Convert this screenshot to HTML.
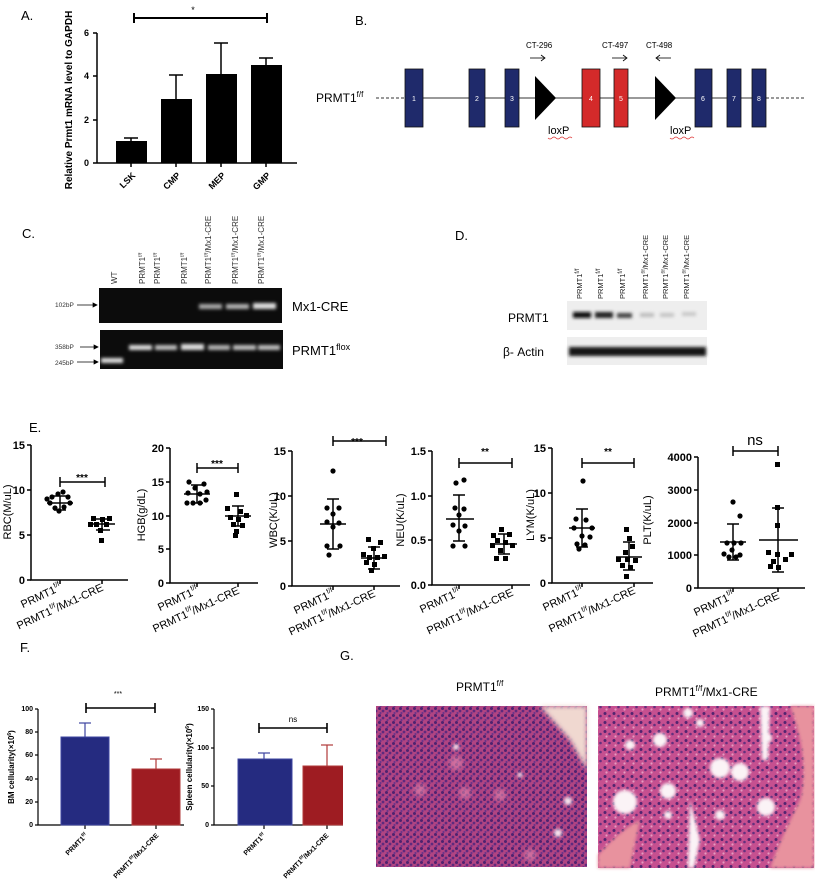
<!DOCTYPE html>
<html><head><meta charset="utf-8"><style>
html,body{margin:0;padding:0;background:#fff}
svg{display:block;font-family:"Liberation Sans",sans-serif}
</style></head><body>
<svg width="815" height="895" viewBox="0 0 815 895" xmlns="http://www.w3.org/2000/svg">
<defs>
<filter id="blur1"><feGaussianBlur stdDeviation="1.6"/></filter>
<filter id="blur2"><feGaussianBlur stdDeviation="2.5"/></filter>
<pattern id="cells" width="7" height="7" patternUnits="userSpaceOnUse">
<rect width="7" height="7" fill="#b04482"/>
<circle cx="1.5" cy="1.5" r="1.5" fill="#4e2270"/><circle cx="5" cy="4" r="1.4" fill="#5e2a7e"/><circle cx="2.5" cy="6" r="1.1" fill="#6d348a"/>
</pattern>
<pattern id="cells2" width="9" height="9" patternUnits="userSpaceOnUse">
<rect width="9" height="9" fill="#c65090"/>
<circle cx="2" cy="2.5" r="1.5" fill="#52246f"/><circle cx="6.5" cy="5" r="1.3" fill="#63307e"/><circle cx="3.5" cy="7.5" r="1.1" fill="#e49ac0"/>
</pattern>
</defs>

<!-- Panel A -->
<text x="21" y="20" font-size="13">A.</text>
<g font-weight="bold" font-size="9">
<line x1="97" y1="33" x2="97" y2="163" stroke="#000" stroke-width="1.5"/>
<line x1="97" y1="163" x2="297" y2="163" stroke="#000" stroke-width="1.5"/>
<g stroke="#000" stroke-width="1.5">
<line x1="93" y1="33" x2="97" y2="33"/><line x1="93" y1="76" x2="97" y2="76"/><line x1="93" y1="120" x2="97" y2="120"/><line x1="93" y1="163" x2="97" y2="163"/>
<line x1="131" y1="163" x2="131" y2="167"/><line x1="176" y1="163" x2="176" y2="167"/><line x1="221" y1="163" x2="221" y2="167"/><line x1="266" y1="163" x2="266" y2="167"/>
</g>
<text x="89" y="36" text-anchor="end">6</text><text x="89" y="79" text-anchor="end">4</text><text x="89" y="123" text-anchor="end">2</text><text x="89" y="166" text-anchor="end">0</text>
<rect x="116" y="141" width="31" height="22"/><rect x="161" y="99" width="31" height="64"/><rect x="206" y="74" width="31" height="89"/><rect x="251" y="65" width="31" height="98"/>
<g stroke="#000" stroke-width="1.5">
<line x1="131" y1="141" x2="131" y2="138"/><line x1="124" y1="138" x2="138" y2="138"/>
<line x1="176" y1="99" x2="176" y2="75"/><line x1="169" y1="75" x2="183" y2="75"/>
<line x1="221" y1="74" x2="221" y2="43"/><line x1="214" y1="43" x2="228" y2="43"/>
<line x1="266" y1="65" x2="266" y2="58"/><line x1="259" y1="58" x2="273" y2="58"/>
<line x1="134" y1="18" x2="267" y2="18" stroke-width="2"/><line x1="134" y1="13" x2="134" y2="23" stroke-width="2"/><line x1="267" y1="13" x2="267" y2="23" stroke-width="2"/>
</g>
<text x="193" y="13" text-anchor="middle" font-weight="normal">*</text>
<text transform="translate(136,176) rotate(-45)" text-anchor="end">LSK</text>
<text transform="translate(181,176) rotate(-45)" text-anchor="end">CMP</text>
<text transform="translate(226,176) rotate(-45)" text-anchor="end">MEP</text>
<text transform="translate(271,176) rotate(-45)" text-anchor="end">GMP</text>
<text transform="translate(72,100) rotate(-90)" text-anchor="middle" font-size="10">Relative Prmt1 mRNA level to GAPDH</text>
</g>

<!-- Panel B -->
<text x="355" y="25" font-size="13">B.</text>
<text x="316" y="102" font-size="12">PRMT1<tspan font-size="8" dy="-5">f/f</tspan></text>
<line x1="376" y1="98" x2="405" y2="98" stroke="#333" stroke-dasharray="3,2"/>
<line x1="405" y1="98" x2="766" y2="98" stroke="#333"/>
<line x1="766" y1="98" x2="805" y2="98" stroke="#333" stroke-dasharray="3,2"/>
<g stroke="#111" stroke-width="0.8">
<rect x="405" y="69" width="18" height="58" fill="#1f2a6b"/>
<rect x="469" y="69" width="16" height="58" fill="#1f2a6b"/>
<rect x="505" y="69" width="14" height="58" fill="#1f2a6b"/>
<rect x="582" y="69" width="18" height="58" fill="#d42a2a"/>
<rect x="614" y="69" width="14" height="58" fill="#d42a2a"/>
<rect x="695" y="69" width="17" height="58" fill="#1f2a6b"/>
<rect x="727" y="69" width="14" height="58" fill="#1f2a6b"/>
<rect x="752" y="69" width="14" height="58" fill="#1f2a6b"/>
</g>
<g font-size="7" fill="#fff" text-anchor="middle">
<text x="414" y="101">1</text><text x="477" y="101">2</text><text x="512" y="101">3</text><text x="591" y="101">4</text><text x="621" y="101">5</text><text x="703" y="101">6</text><text x="734" y="101">7</text><text x="759" y="101">8</text>
</g>
<polygon points="535,76 535,120 556,98" fill="#000"/>
<polygon points="655,76 655,120 676,98" fill="#000"/>
<text x="548" y="134" font-size="11">loxP</text><text x="670" y="134" font-size="11">loxP</text>
<path d="M548 138 q2 2 4 0 t4 0 t4 0 t4 0 t4 0 t4 0" stroke="#d33" fill="none" stroke-width="0.7"/>
<path d="M670 138 q2 2 4 0 t4 0 t4 0 t4 0 t4 0 t4 0" stroke="#d33" fill="none" stroke-width="0.7"/>
<g font-size="8">
<text x="526" y="48">CT-296</text><text x="602" y="48">CT-497</text><text x="646" y="48">CT-498</text>
</g>
<g stroke="#000" stroke-width="0.8">
<line x1="530" y1="58" x2="545" y2="58"/><polyline points="541,55 545,58 541,61" fill="none"/>
<line x1="612" y1="58" x2="627" y2="58"/><polyline points="623,55 627,58 623,61" fill="none"/>
<line x1="656" y1="58" x2="671" y2="58"/><polyline points="660,55 656,58 660,61" fill="none"/>
</g>

<!-- Panel C -->
<text x="22" y="238" font-size="13">C.</text>
<g font-size="8" fill="#333">
<text transform="translate(117,284) rotate(-90)">WT</text>
<text transform="translate(145,284) rotate(-90)">PRMT1<tspan font-size="5" dy="-3">f/f</tspan></text>
<text transform="translate(160,284) rotate(-90)">PRMT1<tspan font-size="5" dy="-3">f/f</tspan></text>
<text transform="translate(187,284) rotate(-90)">PRMT1<tspan font-size="5" dy="-3">f/f</tspan></text>
<text transform="translate(211,284) rotate(-90)">PRMT1<tspan font-size="5" dy="-3">f/f</tspan><tspan dy="3">/Mx1-CRE</tspan></text>
<text transform="translate(238,284) rotate(-90)">PRMT1<tspan font-size="5" dy="-3">f/f</tspan><tspan dy="3">/Mx1-CRE</tspan></text>
<text transform="translate(264,284) rotate(-90)">PRMT1<tspan font-size="5" dy="-3">f/f</tspan><tspan dy="3">/Mx1-CRE</tspan></text>
</g>
<rect x="99" y="288" width="183" height="35" fill="#0c0c0c"/>
<rect x="100" y="330" width="183" height="39" fill="#0c0c0c"/>
<g fill="#ddd" filter="url(#blur1)">
<rect x="199" y="304" width="23" height="5" opacity="0.75"/><rect x="226" y="304" width="23" height="5" opacity="0.8"/><rect x="253" y="303" width="23" height="6"/>
<rect x="101" y="358" width="22" height="5"/>
<rect x="129" y="345" width="23" height="5"/><rect x="155" y="345" width="22" height="5" opacity="0.85"/><rect x="181" y="344" width="23" height="6"/><rect x="208" y="345" width="22" height="5" opacity="0.8"/><rect x="233" y="345" width="23" height="5" opacity="0.85"/><rect x="258" y="345" width="22" height="5" opacity="0.85"/>
</g>
<g font-size="6.5" fill="#333">
<text x="55" y="307">102bP</text><text x="55" y="349">358bP</text><text x="55" y="365">245bP</text>
</g>
<g stroke="#000" stroke-width="0.7">
<line x1="77" y1="305" x2="97" y2="305"/><polygon points="97,305 93,303 93,307"/>
<line x1="80" y1="347" x2="98" y2="347"/><polygon points="98,347 94,345 94,349"/>
<line x1="77" y1="362" x2="98" y2="362"/><polygon points="98,362 94,360 94,364"/>
</g>
<text x="292" y="311" font-size="13">Mx1-CRE</text>
<text x="292" y="355" font-size="13">PRMT1<tspan font-size="9" dy="-5">flox</tspan></text>

<!-- Panel D -->
<text x="455" y="240" font-size="13">D.</text>
<g font-size="7.5" fill="#222">
<text transform="translate(582,299) rotate(-90)">PRMT1<tspan font-size="6" dy="-3">f/f</tspan></text>
<text transform="translate(603,299) rotate(-90)">PRMT1<tspan font-size="6" dy="-3">f/f</tspan></text>
<text transform="translate(625,299) rotate(-90)">PRMT1<tspan font-size="6" dy="-3">f/f</tspan></text>
<text transform="translate(648,299) rotate(-90)">PRMT1<tspan font-size="5" dy="-3">f/f</tspan><tspan dy="3">/Mx1-CRE</tspan></text>
<text transform="translate(668,299) rotate(-90)">PRMT1<tspan font-size="5" dy="-3">f/f</tspan><tspan dy="3">/Mx1-CRE</tspan></text>
<text transform="translate(689,299) rotate(-90)">PRMT1<tspan font-size="5" dy="-3">f/f</tspan><tspan dy="3">/Mx1-CRE</tspan></text>
</g>
<rect x="567" y="301" width="140" height="29" fill="#eee"/>
<rect x="567" y="337" width="140" height="28" fill="#eee"/>
<g filter="url(#blur1)">
<rect x="573" y="312" width="18" height="6" fill="#111"/><rect x="595" y="312" width="18" height="6" fill="#222"/><rect x="617" y="313" width="15" height="5" fill="#444"/>
<rect x="640" y="313" width="14" height="4" fill="#bbb"/><rect x="660" y="313" width="14" height="4" fill="#c4c4c4"/><rect x="682" y="312" width="14" height="4" fill="#c8c8c8"/>
<rect x="569" y="347" width="137" height="9" fill="#151515"/>
</g>
<text x="508" y="322" font-size="12">PRMT1</text>
<text x="503" y="356" font-size="12">β- Actin</text>

<!-- Panel E -->
<text x="29" y="432" font-size="13">E.</text>
<g font-weight="bold" font-size="11" stroke-linecap="butt">
<!-- RBC -->
<g>
<polyline points="31,445 31,580 128,580" fill="none" stroke="#000" stroke-width="1.5"/>
<g stroke="#000" stroke-width="1.5"><line x1="27" y1="445" x2="31" y2="445"/><line x1="27" y1="490" x2="31" y2="490"/><line x1="27" y1="535" x2="31" y2="535"/><line x1="27" y1="580" x2="31" y2="580"/><line x1="60" y1="580" x2="60" y2="584"/><line x1="102" y1="580" x2="102" y2="584"/></g>
<text x="25" y="449" text-anchor="end">15</text><text x="25" y="494" text-anchor="end">10</text><text x="25" y="539" text-anchor="end">5</text><text x="25" y="584" text-anchor="end">0</text>
<text transform="translate(11,512) rotate(-90)" text-anchor="middle" font-weight="normal" font-size="11">RBC(M/uL)</text>
<g stroke="#000" stroke-width="1.5"><line x1="60" y1="482" x2="105" y2="482"/><line x1="60" y1="477" x2="60" y2="487"/><line x1="105" y1="477" x2="105" y2="487"/>
<line x1="47" y1="503" x2="73" y2="503"/><line x1="60" y1="496" x2="60" y2="510"/><line x1="54" y1="496" x2="66" y2="496"/><line x1="54" y1="510" x2="66" y2="510"/>
<line x1="89" y1="524" x2="115" y2="524"/><line x1="102" y1="519" x2="102" y2="530"/><line x1="96" y1="519" x2="110" y2="519"/><line x1="96" y1="530" x2="110" y2="530"/></g>
<text x="82" y="481" text-anchor="middle" font-size="10">***</text>
<g fill="#000"><circle cx="52" cy="497" r="2.6"/><circle cx="58" cy="494" r="2.6"/><circle cx="63" cy="492" r="2.6"/><circle cx="68" cy="497" r="2.6"/><circle cx="50" cy="503" r="2.6"/><circle cx="70" cy="503" r="2.6"/><circle cx="55" cy="508" r="2.6"/><circle cx="64" cy="507" r="2.6"/><circle cx="59" cy="511" r="2.6"/><circle cx="47" cy="499" r="2.6"/>
<rect x="91" y="516" width="5" height="5"/><rect x="100" y="517" width="5" height="5"/><rect x="107" y="516" width="5" height="5"/><rect x="94" y="522" width="5" height="5"/><rect x="104" y="522" width="5" height="5"/><rect x="98" y="528" width="5" height="5"/><rect x="99" y="538" width="5" height="5"/><rect x="88" y="522" width="5" height="5"/></g>
<g font-weight="normal" font-size="11"><text transform="translate(62,590) rotate(-25)" text-anchor="end">PRMT1<tspan font-size="7" dy="-5">f/f</tspan></text>
<text transform="translate(104,590) rotate(-25)" text-anchor="end">PRMT1<tspan font-size="7" dy="-5">f/f</tspan><tspan dy="5">/Mx1-CRE</tspan></text></g>
</g>
<!-- HGB -->
<g>
<polyline points="170,448 170,583 258,583" fill="none" stroke="#000" stroke-width="1.5"/>
<g stroke="#000" stroke-width="1.5"><line x1="166" y1="448" x2="170" y2="448"/><line x1="166" y1="482" x2="170" y2="482"/><line x1="166" y1="516" x2="170" y2="516"/><line x1="166" y1="549" x2="170" y2="549"/><line x1="166" y1="583" x2="170" y2="583"/><line x1="197" y1="583" x2="197" y2="587"/><line x1="238" y1="583" x2="238" y2="587"/></g>
<text x="164" y="452" text-anchor="end">20</text><text x="164" y="486" text-anchor="end">15</text><text x="164" y="520" text-anchor="end">10</text><text x="164" y="553" text-anchor="end">5</text><text x="164" y="587" text-anchor="end">0</text>
<text transform="translate(145,515) rotate(-90)" text-anchor="middle" font-weight="normal">HGB(g/dL)</text>
<g stroke="#000" stroke-width="1.5"><line x1="197" y1="468" x2="238" y2="468"/><line x1="197" y1="463" x2="197" y2="473"/><line x1="238" y1="463" x2="238" y2="473"/>
<line x1="184" y1="494" x2="210" y2="494"/><line x1="197" y1="485" x2="197" y2="503"/><line x1="191" y1="485" x2="203" y2="485"/><line x1="191" y1="503" x2="203" y2="503"/>
<line x1="225" y1="516" x2="251" y2="516"/><line x1="238" y1="506" x2="238" y2="526"/><line x1="232" y1="506" x2="244" y2="506"/><line x1="232" y1="526" x2="244" y2="526"/></g>
<text x="217" y="467" text-anchor="middle" font-size="10">***</text>
<g fill="#000"><circle cx="189" cy="482" r="2.6"/><circle cx="195" cy="488" r="2.6"/><circle cx="204" cy="484" r="2.6"/><circle cx="188" cy="493" r="2.6"/><circle cx="200" cy="494" r="2.6"/><circle cx="207" cy="492" r="2.6"/><circle cx="187" cy="503" r="2.6"/><circle cx="193" cy="503" r="2.6"/><circle cx="200" cy="503" r="2.6"/><circle cx="206" cy="500" r="2.6"/>
<rect x="234" y="492" width="5" height="5"/><rect x="225" y="506" width="5" height="5"/><rect x="238" y="509" width="5" height="5"/><rect x="244" y="513" width="5" height="5"/><rect x="228" y="515" width="5" height="5"/><rect x="236" y="517" width="5" height="5"/><rect x="231" y="522" width="5" height="5"/><rect x="240" y="523" width="5" height="5"/><rect x="234" y="529" width="5" height="5"/><rect x="233" y="533" width="5" height="5"/></g>
<g font-weight="normal"><text transform="translate(199,593) rotate(-25)" text-anchor="end">PRMT1<tspan font-size="7" dy="-5">f/f</tspan></text>
<text transform="translate(240,593) rotate(-25)" text-anchor="end">PRMT1<tspan font-size="7" dy="-5">f/f</tspan><tspan dy="5">/Mx1-CRE</tspan></text></g>
</g>
<!-- WBC -->
<g>
<polyline points="292,451 292,586 400,586" fill="none" stroke="#000" stroke-width="1.5"/>
<g stroke="#000" stroke-width="1.5"><line x1="288" y1="451" x2="292" y2="451"/><line x1="288" y1="496" x2="292" y2="496"/><line x1="288" y1="541" x2="292" y2="541"/><line x1="288" y1="586" x2="292" y2="586"/><line x1="333" y1="586" x2="333" y2="590"/><line x1="374" y1="586" x2="374" y2="590"/></g>
<text x="286" y="455" text-anchor="end">15</text><text x="286" y="500" text-anchor="end">10</text><text x="286" y="545" text-anchor="end">5</text><text x="286" y="590" text-anchor="end">0</text>
<text transform="translate(277,520) rotate(-90)" text-anchor="middle" font-weight="normal">WBC(K/uL)</text>
<g stroke="#000" stroke-width="1.5"><line x1="333" y1="441" x2="386" y2="441"/><line x1="333" y1="436" x2="333" y2="446"/><line x1="386" y1="436" x2="386" y2="446"/>
<line x1="320" y1="524" x2="346" y2="524"/><line x1="333" y1="499" x2="333" y2="549"/><line x1="327" y1="499" x2="339" y2="499"/><line x1="327" y1="549" x2="339" y2="549"/>
<line x1="361" y1="558" x2="387" y2="558"/><line x1="374" y1="547" x2="374" y2="569"/><line x1="368" y1="547" x2="380" y2="547"/><line x1="368" y1="569" x2="380" y2="569"/></g>
<text x="357" y="445" text-anchor="middle" font-size="10">***</text>
<g fill="#000"><circle cx="333" cy="471" r="2.6"/><circle cx="327" cy="508" r="2.6"/><circle cx="339" cy="508" r="2.6"/><circle cx="333" cy="514" r="2.6"/><circle cx="327" cy="522" r="2.6"/><circle cx="339" cy="523" r="2.6"/><circle cx="333" cy="527" r="2.6"/><circle cx="327" cy="546" r="2.6"/><circle cx="340" cy="546" r="2.6"/><circle cx="329" cy="555" r="2.6"/>
<rect x="366" y="537" width="5" height="5"/><rect x="378" y="540" width="5" height="5"/><rect x="371" y="546" width="5" height="5"/><rect x="361" y="552" width="5" height="5"/><rect x="367" y="555" width="5" height="5"/><rect x="375" y="555" width="5" height="5"/><rect x="382" y="554" width="5" height="5"/><rect x="364" y="560" width="5" height="5"/><rect x="372" y="562" width="5" height="5"/><rect x="369" y="568" width="5" height="5"/></g>
<g font-weight="normal"><text transform="translate(335,596) rotate(-25)" text-anchor="end">PRMT1<tspan font-size="7" dy="-5">f/f</tspan></text>
<text transform="translate(376,596) rotate(-25)" text-anchor="end">PRMT1<tspan font-size="7" dy="-5">f/f</tspan><tspan dy="5">/Mx1-CRE</tspan></text></g>
</g>
<!-- NEU -->
<g>
<polyline points="432,451 432,585 530,585" fill="none" stroke="#000" stroke-width="1.5"/>
<g stroke="#000" stroke-width="1.5"><line x1="428" y1="451" x2="432" y2="451"/><line x1="428" y1="496" x2="432" y2="496"/><line x1="428" y1="540" x2="432" y2="540"/><line x1="428" y1="585" x2="432" y2="585"/><line x1="459" y1="585" x2="459" y2="589"/><line x1="512" y1="585" x2="512" y2="589"/></g>
<text x="426" y="455" text-anchor="end">1.5</text><text x="426" y="500" text-anchor="end">1.0</text><text x="426" y="544" text-anchor="end">0.5</text><text x="426" y="589" text-anchor="end">0.0</text>
<text transform="translate(404,520) rotate(-90)" text-anchor="middle" font-weight="normal">NEU(K/uL)</text>
<g stroke="#000" stroke-width="1.5"><line x1="459" y1="463" x2="512" y2="463"/><line x1="459" y1="458" x2="459" y2="468"/><line x1="512" y1="458" x2="512" y2="468"/>
<line x1="446" y1="519" x2="474" y2="519"/><line x1="459" y1="495" x2="459" y2="541"/><line x1="453" y1="495" x2="465" y2="495"/><line x1="453" y1="541" x2="465" y2="541"/>
<line x1="491" y1="544" x2="517" y2="544"/><line x1="504" y1="534" x2="504" y2="554"/><line x1="498" y1="534" x2="510" y2="534"/><line x1="498" y1="554" x2="510" y2="554"/></g>
<text x="485" y="455" text-anchor="middle" font-size="10">**</text>
<g fill="#000"><circle cx="456" cy="483" r="2.6"/><circle cx="464" cy="480" r="2.6"/><circle cx="455" cy="508" r="2.6"/><circle cx="464" cy="509" r="2.6"/><circle cx="459" cy="515" r="2.6"/><circle cx="453" cy="525" r="2.6"/><circle cx="465" cy="526" r="2.6"/><circle cx="459" cy="531" r="2.6"/><circle cx="453" cy="546" r="2.6"/><circle cx="465" cy="546" r="2.6"/>
<rect x="499" y="527" width="5" height="5"/><rect x="491" y="533" width="5" height="5"/><rect x="507" y="532" width="5" height="5"/><rect x="495" y="538" width="5" height="5"/><rect x="503" y="540" width="5" height="5"/><rect x="490" y="543" width="5" height="5"/><rect x="510" y="543" width="5" height="5"/><rect x="498" y="548" width="5" height="5"/><rect x="494" y="556" width="5" height="5"/><rect x="503" y="556" width="5" height="5"/></g>
<g font-weight="normal"><text transform="translate(461,595) rotate(-25)" text-anchor="end">PRMT1<tspan font-size="7" dy="-5">f/f</tspan></text>
<text transform="translate(514,595) rotate(-25)" text-anchor="end">PRMT1<tspan font-size="7" dy="-5">f/f</tspan><tspan dy="5">/Mx1-CRE</tspan></text></g>
</g>
<!-- LYM -->
<g>
<polyline points="552,448 552,583 653,583" fill="none" stroke="#000" stroke-width="1.5"/>
<g stroke="#000" stroke-width="1.5"><line x1="548" y1="448" x2="552" y2="448"/><line x1="548" y1="493" x2="552" y2="493"/><line x1="548" y1="538" x2="552" y2="538"/><line x1="548" y1="583" x2="552" y2="583"/><line x1="582" y1="583" x2="582" y2="587"/><line x1="634" y1="583" x2="634" y2="587"/></g>
<text x="546" y="452" text-anchor="end">15</text><text x="546" y="497" text-anchor="end">10</text><text x="546" y="542" text-anchor="end">5</text><text x="546" y="587" text-anchor="end">0</text>
<text transform="translate(534,515) rotate(-90)" text-anchor="middle" font-weight="normal">LYM(K/uL)</text>
<g stroke="#000" stroke-width="1.5"><line x1="582" y1="463" x2="634" y2="463"/><line x1="582" y1="458" x2="582" y2="468"/><line x1="634" y1="458" x2="634" y2="468"/>
<line x1="569" y1="528" x2="595" y2="528"/><line x1="582" y1="509" x2="582" y2="547"/><line x1="576" y1="509" x2="588" y2="509"/><line x1="576" y1="547" x2="588" y2="547"/>
<line x1="616" y1="557" x2="642" y2="557"/><line x1="629" y1="542" x2="629" y2="570"/><line x1="623" y1="542" x2="635" y2="542"/><line x1="623" y1="570" x2="635" y2="570"/></g>
<text x="608" y="455" text-anchor="middle" font-size="10">**</text>
<g fill="#000"><circle cx="583" cy="481" r="2.6"/><circle cx="576" cy="519" r="2.6"/><circle cx="586" cy="520" r="2.6"/><circle cx="592" cy="528" r="2.6"/><circle cx="574" cy="528" r="2.6"/><circle cx="582" cy="536" r="2.6"/><circle cx="590" cy="537" r="2.6"/><circle cx="577" cy="544" r="2.6"/><circle cx="585" cy="545" r="2.6"/><circle cx="579" cy="549" r="2.6"/>
<rect x="624" y="527" width="5" height="5"/><rect x="627" y="536" width="5" height="5"/><rect x="630" y="544" width="5" height="5"/><rect x="623" y="550" width="5" height="5"/><rect x="616" y="557" width="5" height="5"/><rect x="625" y="557" width="5" height="5"/><rect x="633" y="558" width="5" height="5"/><rect x="620" y="563" width="5" height="5"/><rect x="628" y="565" width="5" height="5"/><rect x="624" y="574" width="5" height="5"/></g>
<g font-weight="normal"><text transform="translate(584,593) rotate(-25)" text-anchor="end">PRMT1<tspan font-size="7" dy="-5">f/f</tspan></text>
<text transform="translate(636,593) rotate(-25)" text-anchor="end">PRMT1<tspan font-size="7" dy="-5">f/f</tspan><tspan dy="5">/Mx1-CRE</tspan></text></g>
</g>
<!-- PLT -->
<g>
<polyline points="698,457 698,588 805,588" fill="none" stroke="#000" stroke-width="1.5"/>
<g stroke="#000" stroke-width="1.5"><line x1="694" y1="457" x2="698" y2="457"/><line x1="694" y1="490" x2="698" y2="490"/><line x1="694" y1="523" x2="698" y2="523"/><line x1="694" y1="555" x2="698" y2="555"/><line x1="694" y1="588" x2="698" y2="588"/><line x1="733" y1="588" x2="733" y2="592"/><line x1="778" y1="588" x2="778" y2="592"/></g>
<text x="692" y="461" text-anchor="end">4000</text><text x="692" y="494" text-anchor="end">3000</text><text x="692" y="527" text-anchor="end">2000</text><text x="692" y="559" text-anchor="end">1000</text><text x="692" y="592" text-anchor="end">0</text>
<text transform="translate(651,520) rotate(-90)" text-anchor="middle" font-weight="normal">PLT(K/uL)</text>
<g stroke="#000" stroke-width="1.5"><line x1="733" y1="451" x2="778" y2="451"/><line x1="733" y1="446" x2="733" y2="456"/><line x1="778" y1="446" x2="778" y2="456"/>
<line x1="720" y1="542" x2="746" y2="542"/><line x1="733" y1="524" x2="733" y2="560"/><line x1="727" y1="524" x2="739" y2="524"/><line x1="727" y1="560" x2="739" y2="560"/>
<line x1="759" y1="540" x2="798" y2="540"/><line x1="778" y1="508" x2="778" y2="572"/><line x1="772" y1="508" x2="784" y2="508"/><line x1="772" y1="572" x2="784" y2="572"/></g>
<text x="755" y="445" text-anchor="middle" font-size="15" font-weight="normal">ns</text>
<g fill="#000"><circle cx="733" cy="502" r="2.6"/><circle cx="740" cy="516" r="2.6"/><circle cx="727" cy="543" r="2.6"/><circle cx="734" cy="543" r="2.6"/><circle cx="741" cy="543" r="2.6"/><circle cx="724" cy="554" r="2.6"/><circle cx="732" cy="550" r="2.6"/><circle cx="740" cy="555" r="2.6"/><circle cx="729" cy="557" r="2.6"/><circle cx="736" cy="557" r="2.6"/>
<rect x="775" y="462" width="5" height="5"/><rect x="775" y="505" width="5" height="5"/><rect x="775" y="523" width="5" height="5"/><rect x="766" y="550" width="5" height="5"/><rect x="789" y="552" width="5" height="5"/><rect x="775" y="552" width="5" height="5"/><rect x="771" y="559" width="5" height="5"/><rect x="783" y="557" width="5" height="5"/><rect x="768" y="564" width="5" height="5"/><rect x="776" y="565" width="5" height="5"/></g>
<g font-weight="normal"><text transform="translate(735,598) rotate(-25)" text-anchor="end">PRMT1<tspan font-size="7" dy="-5">f/f</tspan></text>
<text transform="translate(780,598) rotate(-25)" text-anchor="end">PRMT1<tspan font-size="7" dy="-5">f/f</tspan><tspan dy="5">/Mx1-CRE</tspan></text></g>
</g>
</g>

<!-- Panel F -->
<text x="20" y="652" font-size="13">F.</text>
<g font-weight="bold" font-size="7">
<polyline points="38,709 38,825 184,825" fill="none" stroke="#000" stroke-width="1.2"/>
<g stroke="#000" stroke-width="1.2"><line x1="35" y1="709" x2="38" y2="709"/><line x1="35" y1="732" x2="38" y2="732"/><line x1="35" y1="755" x2="38" y2="755"/><line x1="35" y1="779" x2="38" y2="779"/><line x1="35" y1="802" x2="38" y2="802"/><line x1="35" y1="825" x2="38" y2="825"/><line x1="85" y1="825" x2="85" y2="829"/><line x1="156" y1="825" x2="156" y2="829"/></g>
<text x="33" y="711" text-anchor="end">100</text><text x="33" y="734" text-anchor="end">80</text><text x="33" y="757" text-anchor="end">60</text><text x="33" y="781" text-anchor="end">40</text><text x="33" y="804" text-anchor="end">20</text><text x="33" y="827" text-anchor="end">0</text>
<text transform="translate(14,767) rotate(-90)" text-anchor="middle" font-size="8">BM cellularity(×10<tspan font-size="5" dy="-3">6</tspan><tspan dy="3">)</tspan></text>
<rect x="61" y="737" width="48" height="88" fill="#252b80" stroke="#3d44a0"/>
<rect x="132" y="769" width="48" height="56" fill="#9e1c22" stroke="#b03a3a"/>
<g stroke-width="1.2"><line x1="85" y1="737" x2="85" y2="723" stroke="#3d44a0"/><line x1="79" y1="723" x2="91" y2="723" stroke="#3d44a0"/>
<line x1="156" y1="769" x2="156" y2="759" stroke="#b03a3a"/><line x1="150" y1="759" x2="162" y2="759" stroke="#b03a3a"/></g>
<g stroke="#000" stroke-width="1.6"><line x1="86" y1="708" x2="155" y2="708"/><line x1="86" y1="703" x2="86" y2="713"/><line x1="155" y1="703" x2="155" y2="713"/></g>
<text x="118" y="696" text-anchor="middle" font-weight="normal">***</text>
<text transform="translate(88,836) rotate(-45)" text-anchor="end">PRMT1<tspan font-size="4.5" dy="-3">f/f</tspan></text>
<text transform="translate(159,836) rotate(-45)" text-anchor="end">PRMT1<tspan font-size="4.5" dy="-3">f/f</tspan><tspan dy="3">/Mx1-CRE</tspan></text>

<polyline points="214,709 214,825 343,825" fill="none" stroke="#000" stroke-width="1.2"/>
<g stroke="#000" stroke-width="1.2"><line x1="211" y1="709" x2="214" y2="709"/><line x1="211" y1="748" x2="214" y2="748"/><line x1="211" y1="786" x2="214" y2="786"/><line x1="211" y1="825" x2="214" y2="825"/><line x1="264" y1="825" x2="264" y2="829"/><line x1="327" y1="825" x2="327" y2="829"/></g>
<text x="209" y="711" text-anchor="end">150</text><text x="209" y="750" text-anchor="end">100</text><text x="209" y="788" text-anchor="end">50</text><text x="209" y="827" text-anchor="end">0</text>
<text transform="translate(192,767) rotate(-90)" text-anchor="middle" font-size="8">Spleen cellularity(×10<tspan font-size="5" dy="-3">6</tspan><tspan dy="3">)</tspan></text>
<rect x="238" y="759" width="54" height="66" fill="#252b80" stroke="#3d44a0"/>
<rect x="303" y="766" width="48" height="59" fill="#9e1c22" stroke="#b03a3a"/>
<g stroke-width="1.2"><line x1="264" y1="759" x2="264" y2="753" stroke="#3d44a0"/><line x1="258" y1="753" x2="270" y2="753" stroke="#3d44a0"/>
<line x1="327" y1="766" x2="327" y2="745" stroke="#b03a3a"/><line x1="321" y1="745" x2="333" y2="745" stroke="#b03a3a"/></g>
<g stroke="#000" stroke-width="1.6"><line x1="259" y1="728" x2="327" y2="728"/><line x1="259" y1="723" x2="259" y2="733"/><line x1="327" y1="723" x2="327" y2="733"/></g>
<text x="293" y="722" text-anchor="middle" font-weight="normal" font-size="8">ns</text>
<text transform="translate(266,836) rotate(-45)" text-anchor="end">PRMT1<tspan font-size="4.5" dy="-3">f/f</tspan></text>
<text transform="translate(329,836) rotate(-45)" text-anchor="end">PRMT1<tspan font-size="4.5" dy="-3">f/f</tspan><tspan dy="3">/Mx1-CRE</tspan></text>
</g>
<rect x="343" y="700" width="30" height="190" fill="#fff"/>

<!-- Panel G -->
<text x="340" y="660" font-size="13">G.</text>
<text x="456" y="691" font-size="12">PRMT1<tspan font-size="8" dy="-5">f/f</tspan></text>
<text x="655" y="696" font-size="12">PRMT1<tspan font-size="8" dy="-5">f/f</tspan><tspan dy="5">/Mx1-CRE</tspan></text>
<rect x="376" y="706" width="211" height="161" fill="url(#cells)"/>
<polygon points="540,706 587,706 587,770 570,740" fill="#f0d8d0" filter="url(#blur2)"/>
<g fill="#f5e6ee" filter="url(#blur1)"><circle cx="456" cy="747" r="3"/><circle cx="568" cy="801" r="4"/><circle cx="558" cy="833" r="4"/><circle cx="520" cy="775" r="2.5"/></g>
<g fill="#e58ab0" opacity="0.6" filter="url(#blur2)"><circle cx="456" cy="763" r="7"/><circle cx="465" cy="793" r="6"/><circle cx="500" cy="795" r="6"/><circle cx="530" cy="855" r="6"/><circle cx="420" cy="790" r="6"/></g>
<rect x="598" y="706" width="216" height="162" fill="url(#cells2)"/>
<path d="M790 706 L814 706 L814 868 L770 868 Q780 840 800 800 Q810 760 790 706Z" fill="#e8929e" filter="url(#blur1)"/>
<path d="M598 855 Q620 830 640 820 L630 868 L598 868Z" fill="#e8929e" filter="url(#blur1)"/>
<g fill="#fbf3f6" filter="url(#blur1)">
<circle cx="625" cy="802" r="12"/><circle cx="668" cy="791" r="8"/><circle cx="660" cy="740" r="7"/><circle cx="720" cy="768" r="10"/><circle cx="740" cy="772" r="9"/><circle cx="766" cy="807" r="9"/><circle cx="688" cy="713" r="5"/><circle cx="700" cy="723" r="4"/><circle cx="720" cy="815" r="5"/><circle cx="630" cy="745" r="5"/><circle cx="767" cy="738" r="5"/><circle cx="668" cy="815" r="4"/>
<path d="M760 706 L770 706 L768 760 L762 760Z"/><path d="M690 800 L700 840 L694 868 L688 868Z"/>
</g>
</svg>
</body></html>
